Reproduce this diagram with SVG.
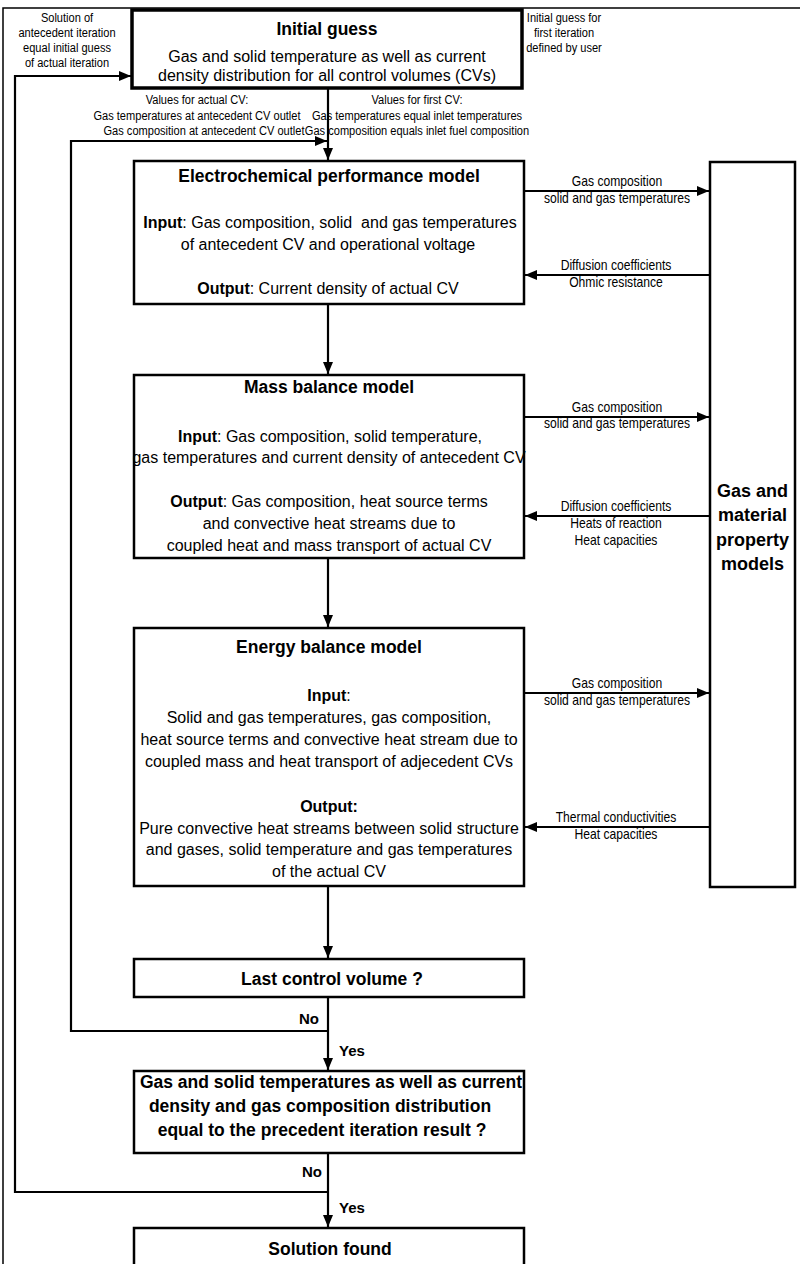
<svg xmlns="http://www.w3.org/2000/svg" width="800" height="1264" viewBox="0 0 800 1264">
<style>
.box{fill:#fff;stroke:#000;stroke-width:2.5}
.thick{stroke-width:3.5}
.con{fill:none;stroke:#000;stroke-width:2.2}
.frame{fill:none;stroke:#000;stroke-width:1.5}
text{font-family:"Liberation Sans",Arial,sans-serif;fill:#000;text-anchor:middle}
.t{font-size:17.5px;font-weight:bold}
.b{font-size:16px}
.bb{font-weight:bold}
.n{font-size:13.5px}
.na{font-size:14.8px}
.lab{font-size:15px;font-weight:bold}
</style>
<defs>
<marker id="ah" viewBox="0 0 12 10" refX="12" refY="5" markerWidth="12" markerHeight="10" markerUnits="userSpaceOnUse" orient="auto">
<path d="M0,0 L12,5 L0,10 z" fill="#000"/>
</marker>
</defs>
<rect width="800" height="1264" fill="#fff"/>
<path class="frame" d="M3,1264 V8 H800"/>

<g id="connectors">
<path class="con" d="M328,88 V160" marker-end="url(#ah)"/>
<path class="con" d="M328,304 V374" marker-end="url(#ah)"/>
<path class="con" d="M328,558 V627" marker-end="url(#ah)"/>
<path class="con" d="M328,886 V958" marker-end="url(#ah)"/>
<path class="con" d="M328,997 V1070" marker-end="url(#ah)"/>
<path class="con" d="M328,1153 V1227" marker-end="url(#ah)"/>
<path class="con" d="M328,1031 H71 V141 H327" marker-end="url(#ah)"/>
<path class="con" d="M328,1192 H15 V76 H131" marker-end="url(#ah)"/>
<path class="con" d="M524,191 H709" marker-end="url(#ah)"/>
<path class="con" d="M710,275 H525" marker-end="url(#ah)"/>
<path class="con" d="M524,417 H709" marker-end="url(#ah)"/>
<path class="con" d="M710,516 H525" marker-end="url(#ah)"/>
<path class="con" d="M524,693 H709" marker-end="url(#ah)"/>
<path class="con" d="M710,827 H525" marker-end="url(#ah)"/>
<text class="n" transform="translate(67,22) scale(0.82,1)">Solution of</text>
<text class="n" transform="translate(67,37) scale(0.82,1)">antecedent iteration</text>
<text class="n" transform="translate(67,52) scale(0.82,1)">equal initial guess</text>
<text class="n" transform="translate(67,67) scale(0.82,1)">of actual iteration</text>
<text class="n" transform="translate(564,22) scale(0.82,1)">Initial guess for</text>
<text class="n" transform="translate(564,37) scale(0.82,1)">first iteration</text>
<text class="n" transform="translate(564,52) scale(0.82,1)">defined by user</text>
<text class="n" transform="translate(197,104) scale(0.82,1)">Values for actual CV:</text>
<text class="n" transform="translate(197,120) scale(0.82,1)">Gas temperatures at antecedent CV outlet</text>
<text class="n" transform="translate(204,135) scale(0.82,1)">Gas composition at antecedent CV outlet</text>
<text class="n" transform="translate(417,104) scale(0.82,1)">Values for first CV:</text>
<text class="n" transform="translate(417,120) scale(0.82,1)">Gas temperatures equal inlet temperatures</text>
<text class="n" transform="translate(417,135) scale(0.82,1)">Gas composition equals inlet fuel composition</text>
<text class="na" transform="translate(617,186) scale(0.82,1)">Gas composition</text>
<text class="na" transform="translate(617,203) scale(0.82,1)">solid and gas temperatures</text>
<text class="na" transform="translate(616,270) scale(0.82,1)">Diffusion coefficients</text>
<text class="na" transform="translate(616,287) scale(0.82,1)">Ohmic resistance</text>
<text class="na" transform="translate(617,412) scale(0.82,1)">Gas composition</text>
<text class="na" transform="translate(617,428) scale(0.82,1)">solid and gas temperatures</text>
<text class="na" transform="translate(616,511) scale(0.82,1)">Diffusion coefficients</text>
<text class="na" transform="translate(616,528) scale(0.82,1)">Heats of reaction</text>
<text class="na" transform="translate(616,545) scale(0.82,1)">Heat capacities</text>
<text class="na" transform="translate(617,688) scale(0.82,1)">Gas composition</text>
<text class="na" transform="translate(617,705) scale(0.82,1)">solid and gas temperatures</text>
<text class="na" transform="translate(616,822) scale(0.82,1)">Thermal conductivities</text>
<text class="na" transform="translate(616,839) scale(0.82,1)">Heat capacities</text>
<text class="lab" x="309" y="1024">No</text>
<text class="lab" x="352" y="1056">Yes</text>
<text class="lab" x="312" y="1177">No</text>
<text class="lab" x="352" y="1213">Yes</text>
</g>

<g id="initial-guess">
<rect class="box thick" x="132" y="10" width="390" height="78"/>
<text class="t" x="327" y="35">Initial guess</text>
<text class="b" x="327" y="62">Gas and solid temperature as well as current</text>
<text class="b" x="327" y="81">density distribution for all control volumes (CVs)</text>
</g>

<g id="electrochemical">
<rect class="box" x="134" y="161" width="390" height="143"/>
<text class="t" x="329" y="182">Electrochemical performance model</text>
<text class="b" x="330" y="228" xml:space="preserve"><tspan class="bb">Input</tspan>: Gas composition, solid  and gas temperatures</text>
<text class="b" x="328" y="250">of antecedent CV and operational voltage</text>
<text class="b" x="328" y="294"><tspan class="bb">Output</tspan>: Current density of actual CV</text>
</g>

<g id="mass-balance">
<rect class="box" x="134" y="375" width="390" height="183"/>
<text class="t" x="329" y="393">Mass balance model</text>
<text class="b" x="330" y="442"><tspan class="bb">Input</tspan>: Gas composition, solid temperature,</text>
<text class="b" x="329" y="463">gas temperatures and current density of antecedent CV</text>
<text class="b" x="329" y="507"><tspan class="bb">Output</tspan>: Gas composition, heat source terms</text>
<text class="b" x="329" y="529">and convective heat streams due to</text>
<text class="b" x="329" y="551">coupled heat and mass transport of actual CV</text>
</g>

<g id="energy-balance">
<rect class="box" x="134" y="628" width="390" height="258"/>
<text class="t" x="329" y="653">Energy balance model</text>
<text class="b" x="329" y="701"><tspan class="bb">Input</tspan>:</text>
<text class="b" x="329" y="723">Solid and gas temperatures, gas composition,</text>
<text class="b" x="329" y="745">heat source terms and convective heat stream due to</text>
<text class="b" x="329" y="767">coupled mass and heat transport of adjecedent CVs</text>
<text class="b bb" x="329" y="812">Output:</text>
<text class="b" x="329" y="834">Pure convective heat streams between solid structure</text>
<text class="b" x="329" y="855">and gases, solid temperature and gas temperatures</text>
<text class="b" x="329" y="877">of the actual CV</text>
</g>

<g id="property-models">
<rect class="box" x="710" y="162" width="85" height="725"/>
<text class="t" x="752.5" y="497" style="font-size:18px">Gas and</text>
<text class="t" x="752.5" y="521" style="font-size:18px">material</text>
<text class="t" x="752.5" y="546" style="font-size:18px">property</text>
<text class="t" x="752.5" y="570" style="font-size:18px">models</text>
</g>

<g id="last-control-volume">
<rect class="box" x="134" y="959" width="390" height="38"/>
<text class="t" x="332" y="985">Last control volume ?</text>
</g>

<g id="convergence-check">
<rect class="box" x="134" y="1071" width="390" height="82"/>
<text class="t" x="331" y="1088">Gas and solid temperatures as well as current</text>
<text class="t" x="320" y="1112">density and gas composition distribution</text>
<text class="t" x="322" y="1136">equal to the precedent iteration result ?</text>
</g>

<g id="solution-found">
<rect class="box" x="134" y="1228" width="390" height="50"/>
<text class="t" x="330" y="1255">Solution found</text>
</g>
</svg>
